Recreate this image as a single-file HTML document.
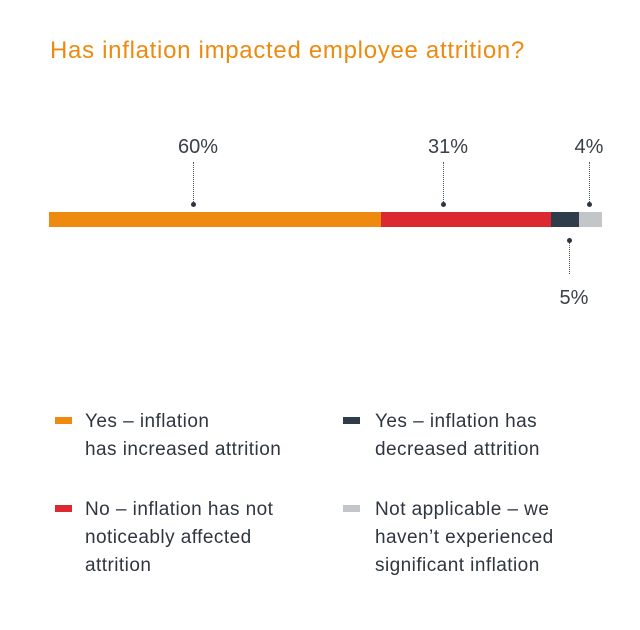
<!DOCTYPE html>
<html><head><style>
body{margin:0;width:640px;height:630px;background:#fff;font-family:"Liberation Sans",sans-serif;position:relative;overflow:hidden}
.t{position:absolute;left:50px;top:37px;font-size:24px;letter-spacing:0.7px;color:#ee8a0f}
.lab{position:absolute;font-size:20px;color:#3a4049;transform:translateX(-50%)}
.seg{position:absolute;top:212px;height:15px}
.dot{position:absolute;width:5px;height:5px;border-radius:50%;background:#2d3540}
.ln{position:absolute;width:0;border-left:1px dotted #555}
.lg{position:absolute;font-size:19px;letter-spacing:0.45px;line-height:28px;color:#2f3640}
.sq{position:absolute;width:17px;height:7px}
</style></head><body>
<div class="t">Has inflation impacted employee attrition?</div>
<div class="seg" style="left:49px;width:332px;background:#ee8a0f"></div>
<div class="seg" style="left:381px;width:170px;background:#dc2831"></div>
<div class="seg" style="left:551px;width:28px;background:#2f3c4a"></div>
<div class="seg" style="left:579px;width:23px;background:#c3c6c9"></div>
<div class="lab" style="left:198px;top:136px">60%</div>
<div class="lab" style="left:448px;top:136px">31%</div>
<div class="lab" style="left:589px;top:136px">4%</div>
<div class="lab" style="left:574px;top:287px">5%</div>
<div class="ln" style="left:193px;top:162px;height:42px"></div>
<div class="ln" style="left:443px;top:162px;height:42px"></div>
<div class="ln" style="left:589px;top:162px;height:42px"></div>
<div class="ln" style="left:569px;top:242px;height:32px"></div>
<div class="dot" style="left:191px;top:202px"></div>
<div class="dot" style="left:441px;top:202px"></div>
<div class="dot" style="left:587px;top:202px"></div>
<div class="dot" style="left:567px;top:238px"></div>
<div class="sq" style="left:55px;top:417px;background:#ee8a0f"></div>
<div class="lg" style="left:85px;top:408px">Yes – inflation<br>has increased attrition</div>
<div class="sq" style="left:343px;top:417px;background:#2f3c4a"></div>
<div class="lg" style="left:375px;top:408px">Yes – inflation has<br>decreased attrition</div>
<div class="sq" style="left:55px;top:505px;background:#dc2831"></div>
<div class="lg" style="left:85px;top:496px">No – inflation has not<br>noticeably affected<br>attrition</div>
<div class="sq" style="left:343px;top:505px;background:#c3c6c9"></div>
<div class="lg" style="left:375px;top:496px">Not applicable – we<br>haven’t experienced<br>significant inflation</div>
</body></html>
